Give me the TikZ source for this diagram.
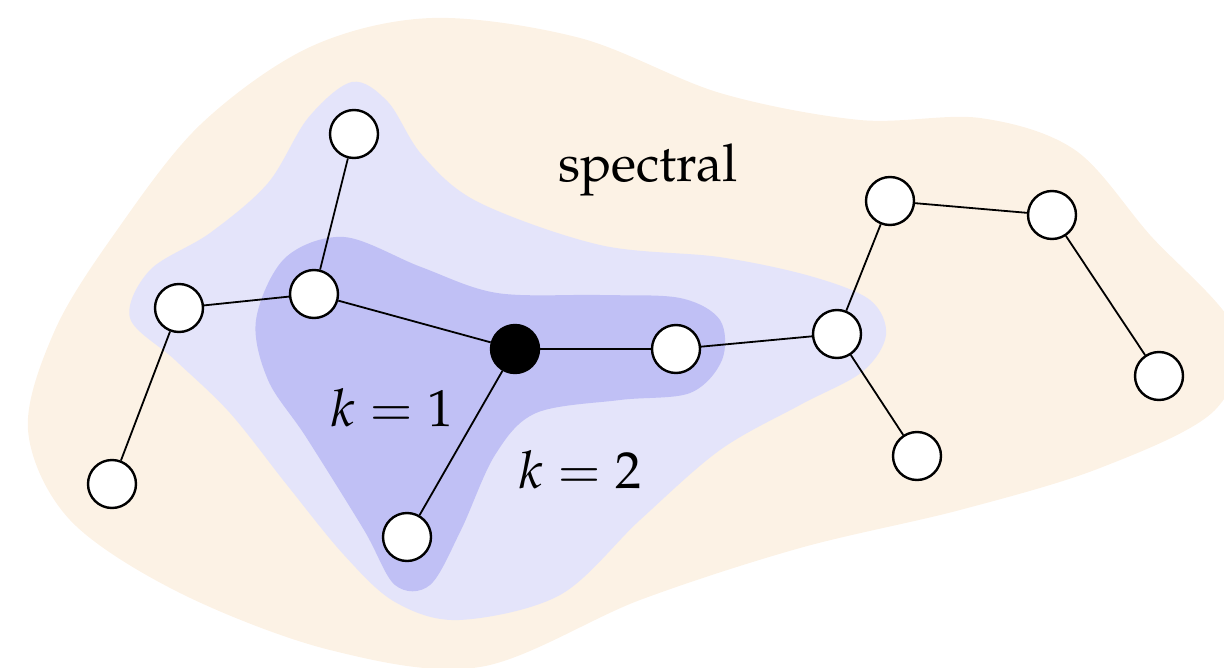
\documentclass[tikz,border=0pt]{standalone}
\usepackage[T1]{fontenc}
\usepackage{mathpazo}
\definecolor{beige}{HTML}{FCF2E5}
\definecolor{lightlav}{HTML}{E4E4FA}
\definecolor{darklav}{HTML}{C0C0F5}
\tikzset{
  vtx/.style={circle,draw=black,line width=1.2pt,fill=white,minimum size=24pt,inner sep=0pt},
  ctr/.style={vtx,fill=black},
  edge/.style={line width=0.9pt,draw=black},
  lbl/.style={font=\fontsize{26}{31}\selectfont}
}
\begin{document}
\begin{tikzpicture}[x=0.5pt,y=-0.5pt]
\useasboundingbox (0,0) rectangle (1224,668);
\clip (0,0) rectangle (1224,668);
% beige region
\fill[beige] plot[smooth cycle,tension=0.55] coordinates {
 (432,18) (580,38) (720,93) (860,120) (980,118) (1075,150) (1150,235) (1235,330) (1215,410)
 (1100,468) (960,510) (800,548) (640,600) (480,667) (330,650) (180,593) (70,520) (28,430)
 (55,330) (115,233) (200,125) (310,47)};
% light lavender region
\fill[lightlav] plot[smooth cycle,tension=0.55] coordinates {
 (352,82) (388,102) (422,155) (478,202) (600,245) (719,257) (810,276) (870,300) (886,335)
 (862,372) (800,405) (720,450) (640,520) (560,595) (459,620) (395,602) (344,555) (287,485)
 (230,413) (175,360) (130,318) (150,270) (210,233) (268,183) (308,118)};
% dark lavender region
\fill[darklav] plot[smooth cycle,tension=0.55] coordinates {
 (344,237) (421,267) (497,293) (600,295) (680,298) (720,320) (722,360) (690,393) (620,400)
 (536,413) (495,455) (461,530) (430,585) (395,585) (364,530) (306,437) (268,380) (256,320) (285,258)};
% vertices
\node[vtx] (A) at (354,134) {};
\node[vtx] (B) at (314,294) {};
\node[vtx] (C) at (179,308) {};
\node[vtx] (D) at (112,484) {};
\node[ctr] (E) at (515,349) {};
\node[vtx] (F) at (676,349) {};
\node[vtx] (G) at (837,334) {};
\node[vtx] (H) at (407,537) {};
\node[vtx] (I) at (890,201) {};
\node[vtx] (J) at (1052,215) {};
\node[vtx] (K) at (1159,376) {};
\node[vtx] (L) at (917,456) {};
% edges
\draw[edge] (A) -- (B);
\draw[edge] (B) -- (C);
\draw[edge] (C) -- (D);
\draw[edge] (B) -- (E);
\draw[edge] (E) -- (F);
\draw[edge] (E) -- (H);
\draw[edge] (F) -- (G);
\draw[edge] (G) -- (I);
\draw[edge] (I) -- (J);
\draw[edge] (J) -- (K);
\draw[edge] (G) -- (L);
% labels
\node[lbl] (spec) at (648,170) {spectral};
\node[lbl] (k1) at (392,408) {$k=1$};
\node[lbl] (k2) at (580,470) {$k=2$};
\end{tikzpicture}
\end{document}
